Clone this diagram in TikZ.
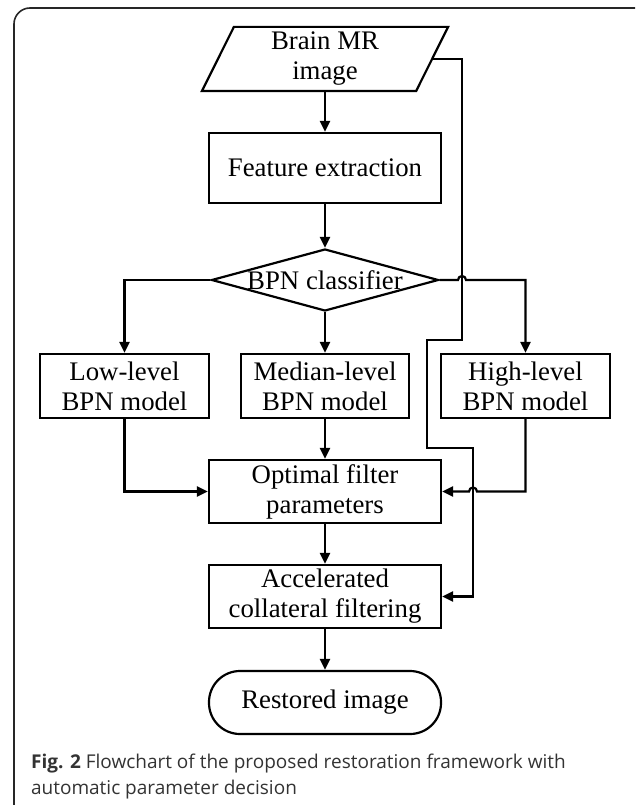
\documentclass[tikz,border=0pt]{standalone}
\usepackage{fontspec}
\setmainfont{Liberation Serif}
\newfontfamily\capfont{Open Sans}
\usetikzlibrary{arrows.meta,shapes.geometric}
\begin{document}
\begin{tikzpicture}[x=1pt,y=-1pt,line width=2.2pt,
  txt/.style={font=\fontsize{26.8}{30}\selectfont, align=center},
  box/.style={txt, draw, rectangle, inner sep=0pt, minimum height=63pt},
  wide/.style={box, minimum width=232pt},
  small/.style={box, minimum width=169pt, minimum height=64pt},
  arr/.style={-{Triangle[length=11pt,width=10pt]}},
  capt/.style={font=\capfont\fontsize{19}{22}\selectfont, text=black!80, inner sep=0pt, anchor=base west}
]
\useasboundingbox (0,0) rectangle (635,805);
\clip (0,0) rectangle (635,805);
\draw[line width=1.6pt, black!85, rounded corners=16pt] (14,830) -- (14,8) -- (660,8);

% input parallelogram
\node[txt, inner sep=0pt, minimum width=212pt, minimum height=62pt] (in) at (325,59) {Brain MR\\image};
\draw ([xshift=-16pt]in.south west) -- ([xshift=16pt]in.north west) -- ([xshift=16pt]in.north east) -- ([xshift=-16pt]in.south east) -- cycle;

\node[wide, minimum height=70pt] (fe) at (325,168) {Feature extraction};
\node[diamond, draw, inner sep=0pt, minimum width=227pt, minimum height=62pt,
      label={[txt]center:BPN classifier}] (dia) at (325,280) {};
\node[small] (low) at (124.5,386) {Low-level\\BPN model};
\node[small, minimum width=168pt] (med) at (325,386) {Median-level\\BPN model};
\node[small] (high) at (525.5,386) {High-level\\BPN model};
\node[wide] (opt) at (325,491.5) {Optimal filter\\parameters};
\node[wide] (acc) at (325,596.5) {Accelerated\\collateral filtering};
\node[wide, rounded corners=31pt] (res) at (325,702.5) {Restored image};

\draw[arr] (in.south) -- (fe.north);
\draw[arr] (fe.south) -- (dia.north);
\draw[arr] (dia.west) -- (124.5,280) -- (low.north);
\draw[arr] (dia.south) -- (med.north);
\draw[arr] (dia.east) -- (458,280) arc[start angle=180,end angle=360,radius=4] -- (525.5,280) -- (high.north);
\draw[arr] (med.south) -- (opt.north);
\draw[arr] (low.south) -- (124.5,491.5) -- (opt.west);
\draw[arr] (high.south) -- (525.5,491.5) -- (477,491.5) arc[start angle=0,end angle=-180,radius=4] -- (opt.east);
\draw[arr] (opt.south) -- (acc.north);
\draw[arr] (acc.south) -- (res.north);
\draw[arr] (in.east) -- (462,59) -- (462,340) -- (427,340) -- (427,448) -- (473,448) -- (473,596.5) -- (acc.east);

\node[capt] (cap1) at (30,768) {\textbf{Fig. 2} Flowchart of the proposed restoration framework with};
\node[capt] (cap2) at (30,794) {automatic parameter decision};
\end{tikzpicture}
\end{document}
